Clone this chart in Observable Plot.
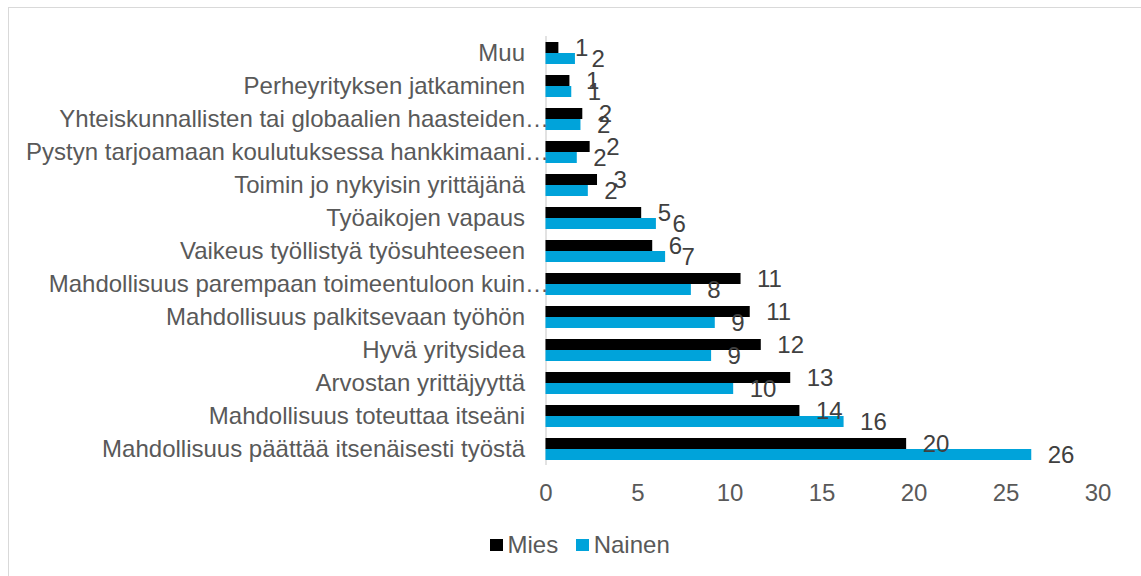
<!DOCTYPE html>
<html>
<head>
<meta charset="utf-8">
<script src="https://cdn.jsdelivr.net/npm/d3@7"></script>
<script src="https://cdn.jsdelivr.net/npm/@observablehq/plot@0.6"></script>
<style>
  html, body { margin: 0; padding: 0; background: #fff; }
  #wrap { position: relative; width: 1141px; height: 576px; overflow: hidden; font-family: "Liberation Sans", Arial, sans-serif; }
  #frame { position: absolute; left: 8px; top: 7px; width: 1200px; height: 700px; border: 1.5px solid #d9d9d9; box-sizing: border-box; }
  #chart { position: absolute; left: 0; top: 0; }
  #legend { position: absolute; left: 0; top: 520px; width: 1141px; height: 50px; display: flex; align-items: center; padding-left: 490px; box-sizing: border-box; font-size: 24px; color: #595959; }
  .sw { display: inline-block; width: 12.5px; height: 12.5px; margin-right: 5px; }
  .item { display: flex; align-items: center; margin-right: 18px; }
</style>
</head>
<body>
<div id="wrap">
  <div id="frame"></div>
  <div id="chart"></div>
  <div id="legend"></div>
</div>
<script>
const categories = [
  "Muu",
  "Perheyrityksen jatkaminen",
  "Yhteiskunnallisten tai globaalien haasteiden…",
  "Pystyn tarjoamaan koulutuksessa hankkimaani…",
  "Toimin jo nykyisin yrittäjänä",
  "Työaikojen vapaus",
  "Vaikeus työllistyä työsuhteeseen",
  "Mahdollisuus parempaan toimeentuloon kuin…",
  "Mahdollisuus palkitsevaan työhön",
  "Hyvä yritysidea",
  "Arvostan yrittäjyyttä",
  "Mahdollisuus toteuttaa itseäni",
  "Mahdollisuus päättää itsenäisesti työstä"
];
const series = ["Mies", "Nainen"];
const colors = ["#000000", "#00a3da"];
const mies   = [0.7, 1.3, 2.0, 2.4, 2.8, 5.2, 5.8, 10.6, 11.1, 11.7, 13.3, 13.8, 19.6];
const nainen = [1.6, 1.4, 1.9, 1.7, 2.3, 6.0, 6.5, 7.9, 9.2, 9.0, 10.2, 16.2, 26.4];
const xTicks = [0, 5, 10, 15, 20, 25, 30];

const rows = [];
categories.forEach((c, i) => {
  rows.push({category: c, series: "Mies", value: mies[i]});
  rows.push({category: c, series: "Nainen", value: nainen[i]});
});
const truncated = categories.filter(c => c.endsWith("…"));

const chart = Plot.plot({
  width: 1141,
  height: 520,
  marginLeft: 545.5,
  marginRight: 43.5,
  marginTop: 35,
  marginBottom: 54,
  style: {fontFamily: "'Liberation Sans', Arial, sans-serif", fontSize: "24px", color: "#595959", background: "transparent", overflow: "visible"},
  x: {domain: [0, 30], ticks: xTicks, tickSize: 0, tickPadding: 23, label: null},
  y: {domain: series, padding: 0, axis: null},
  fy: {domain: categories, paddingInner: 0.294, paddingOuter: 0.147, axis: "left", tickSize: 0, tickPadding: 21, label: null,
       tickFormat: d => d.replace("…", "")},
  color: {domain: series, range: colors},
  marks: [
    Plot.ruleX([0], {stroke: "#d9d9d9", strokeWidth: 1.5, insetTop: -5, insetBottom: -5}),
    Plot.barX(rows, {fy: "category", y: "series", x: "value", fill: "series"}),
    Plot.text(rows, {fy: "category", y: "series", x: "value", text: d => String(Math.round(d.value)), dx: 16, textAnchor: "start", fill: "#404040", fontSize: 24}),
    Plot.text(truncated, {fy: d => d, frameAnchor: "left", text: () => "…", textAnchor: "start", dx: -21, fill: "#595959", fontSize: 24})
  ]
});
document.getElementById("chart").appendChild(chart);

const legend = document.getElementById("legend");
series.forEach((s, i) => {
  const item = document.createElement("span");
  item.className = "item";
  const sw = document.createElement("span");
  sw.className = "sw";
  sw.style.background = colors[i];
  item.appendChild(sw);
  item.appendChild(document.createTextNode(s));
  legend.appendChild(item);
});
</script>
</body>
</html>
